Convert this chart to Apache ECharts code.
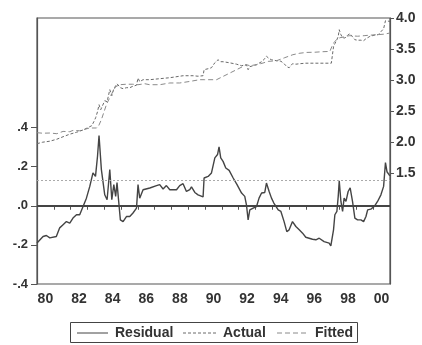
<!DOCTYPE html>
<html>
<head>
<meta charset="utf-8">
<script src="https://cdn.jsdelivr.net/npm/echarts@6/dist/echarts.min.js"></script>
<style>
html,body{margin:0;padding:0;background:#fff;}
#chart{width:422px;height:345px;}
</style>
</head>
<body>
<div id="chart"></div>
<script>
// Residual (left axis)
const resYears = [1980.00,1980.36,1980.56,1980.76,1981.15,1981.35,1981.55,1981.75,1981.95,1982.14,1982.35,1982.54,1982.74,1982.94,1983.14,1983.33,1983.48,1983.60,1983.69,1983.83,1984.03,1984.17,1984.33,1984.45,1984.57,1984.68,1984.76,1984.86,1984.96,1985.12,1985.32,1985.52,1985.71,1985.92,1986.01,1986.11,1986.31,1986.71,1987.11,1987.30,1987.50,1987.70,1987.90,1988.30,1988.49,1988.69,1988.89,1989.09,1989.19,1989.39,1989.58,1989.88,1989.94,1990.18,1990.38,1990.58,1990.74,1990.83,1990.93,1991.07,1991.23,1991.43,1991.67,1991.90,1992.17,1992.36,1992.46,1992.56,1992.66,1992.86,1993.06,1993.21,1993.36,1993.55,1993.65,1993.81,1993.95,1994.09,1994.35,1994.51,1994.70,1994.86,1995.00,1995.20,1995.40,1995.60,1995.80,1995.99,1996.19,1996.39,1996.59,1996.79,1996.89,1997.08,1997.38,1997.48,1997.64,1997.72,1997.84,1997.92,1997.98,1998.08,1998.18,1998.27,1998.38,1998.51,1998.63,1998.77,1998.91,1999.07,1999.27,1999.43,1999.57,1999.67,1999.86,2000.06,2000.26,2000.46,2000.62,2000.73,2000.82,2000.94,2001.00];
const resValues = [-0.190,-0.157,-0.152,-0.164,-0.157,-0.113,-0.097,-0.081,-0.089,-0.063,-0.046,-0.046,-0.004,0.039,0.099,0.168,0.150,0.253,0.359,0.185,0.056,0.031,0.185,0.031,0.108,0.048,0.118,0.022,-0.072,-0.081,-0.055,-0.055,-0.037,-0.012,0.108,0.039,0.082,0.091,0.103,0.108,0.086,0.103,0.082,0.082,0.103,0.113,0.073,0.082,0.096,0.068,0.056,0.045,0.142,0.150,0.168,0.245,0.262,0.301,0.245,0.227,0.193,0.181,0.142,0.108,0.065,0.048,0.005,-0.072,-0.021,-0.012,-0.004,0.039,0.065,0.068,0.116,0.073,0.039,0.014,-0.021,-0.029,-0.081,-0.132,-0.123,-0.081,-0.106,-0.123,-0.140,-0.161,-0.166,-0.171,-0.174,-0.166,-0.174,-0.183,-0.191,-0.205,-0.123,-0.046,-0.029,0.048,0.128,0.022,-0.029,0.039,0.022,0.073,0.091,0.022,-0.063,-0.072,-0.072,-0.081,-0.055,-0.021,-0.017,-0.004,0.022,0.056,0.099,0.221,0.174,0.159,0.154];

// Actual (right axis)
const actYears = [1980.00,1980.34,1980.76,1981.18,1981.55,1981.95,1982.36,1982.74,1983.02,1983.26,1983.38,1983.49,1983.60,1983.69,1983.79,1983.88,1984.03,1984.17,1984.33,1984.45,1984.57,1984.68,1984.76,1984.86,1984.96,1985.12,1985.32,1985.52,1985.71,1985.92,1986.01,1986.11,1986.31,1986.71,1987.30,1987.90,1988.69,1989.29,1989.58,1989.88,1989.94,1990.18,1990.38,1990.58,1990.77,1990.93,1991.07,1991.43,1991.87,1992.17,1992.46,1992.56,1992.66,1993.06,1993.36,1993.55,1993.65,1993.81,1993.95,1994.25,1994.51,1994.70,1994.86,1995.00,1995.20,1995.40,1995.64,1995.99,1996.59,1997.07,1997.51,1997.64,1997.72,1997.84,1997.92,1997.98,1998.08,1998.18,1998.32,1998.51,1998.63,1998.77,1998.91,1999.07,1999.27,1999.43,1999.57,1999.80,2000.06,2000.30,2000.46,2000.62,2000.73,2000.82,2001.00];
const actValues = [1.973,1.997,2.013,2.045,2.085,2.126,2.158,2.194,2.231,2.263,2.327,2.392,2.489,2.602,2.521,2.537,2.666,2.650,2.844,2.747,2.860,2.844,2.940,2.908,2.876,2.860,2.876,2.876,2.900,2.916,3.032,2.973,3.005,3.005,3.021,3.037,3.069,3.069,3.061,3.069,3.166,3.182,3.198,3.279,3.327,3.295,3.295,3.279,3.255,3.231,3.247,3.166,3.215,3.247,3.295,3.344,3.384,3.344,3.327,3.311,3.303,3.263,3.215,3.198,3.263,3.255,3.263,3.271,3.271,3.271,3.271,3.537,3.585,3.650,3.703,3.811,3.731,3.682,3.677,3.731,3.747,3.698,3.650,3.642,3.642,3.634,3.666,3.703,3.723,3.731,3.779,3.827,3.956,3.924,3.945];

// Fitted (right axis)
const fitYears = [1980.00,1980.34,1980.76,1981.18,1981.55,1981.95,1982.14,1982.54,1982.74,1983.14,1983.54,1983.67,1983.83,1983.97,1984.15,1984.33,1984.51,1984.68,1984.92,1985.32,1985.70,1986.01,1986.11,1986.41,1986.71,1987.30,1987.90,1988.49,1989.09,1989.68,1989.98,1990.08,1990.18,1990.28,1990.68,1991.07,1991.87,1992.46,1992.66,1993.06,1993.45,1993.75,1994.25,1994.74,1995.22,1995.64,1996.04,1996.53,1996.95,1997.42,1997.54,1997.66,1997.82,1998.02,1998.20,1998.38,1998.61,1999.07,1999.46,1999.80,2000.26,2000.64,2001.00];
const fitValues = [2.150,2.142,2.145,2.134,2.171,2.166,2.187,2.182,2.198,2.226,2.226,2.263,2.360,2.473,2.618,2.715,2.811,2.892,2.924,2.932,2.932,2.924,2.940,2.940,2.924,2.924,2.952,2.952,2.977,3.005,3.005,3.032,3.005,2.977,3.005,3.058,3.166,3.247,3.231,3.247,3.274,3.300,3.311,3.360,3.408,3.432,3.445,3.448,3.456,3.461,3.537,3.602,3.650,3.682,3.690,3.706,3.715,3.706,3.715,3.723,3.731,3.739,3.758];

const leftTicks = [-0.4,-0.2,0,0.2,0.4];
const rightTicks = [1.5,2.0,2.5,3.0,3.5,4.0];
const yearLabelPos = [1980.5,1982.5,1984.5,1986.5,1988.5,1990.5,1992.5,1994.5,1996.5,1998.5,2000.5];
const seLevel = 0.127;
const seriesNames = ['Residual', 'Actual', 'Fitted'];

const zip = (xs, ys) => xs.map((x, i) => [x, ys[i]]);

const chart = echarts.init(document.getElementById('chart'), null, {renderer: 'canvas'});
const axisColor = '#555';
const fontFamily = 'Liberation Sans, Arial, sans-serif';
const labelStyle = {color: '#333', fontFamily: fontFamily, fontSize: 13, fontWeight: 'bold'};

const styles = {
  Residual: {color: '#444', width: 1.4, type: 'solid'},
  Actual: {color: '#6a6a6a', width: 1, type: [3, 2]},
  Fitted: {color: '#8a8a8a', width: 1, type: [5, 3]}
};

// Legend drawn as a framed box (line samples + real text)
const legendItems = [
  {name: seriesNames[0], x0: 77, x1: 108, tx: 115},
  {name: seriesNames[1], x0: 183, x1: 216, tx: 223},
  {name: seriesNames[2], x0: 277, x1: 308, tx: 315}
];
const legendGraphic = [
  {type: 'rect', shape: {x: 70.5, y: 322.5, width: 287, height: 20}, style: {fill: '#fff', stroke: '#444', lineWidth: 1}, silent: true}
];
legendItems.forEach(it => {
  const s = styles[it.name];
  legendGraphic.push({type: 'line', shape: {x1: it.x0, y1: 333, x2: it.x1, y2: 333},
    style: {stroke: s.color, lineWidth: 1, lineDash: s.type === 'solid' ? null : s.type}, silent: true});
  legendGraphic.push({type: 'text', x: it.tx, y: 333,
    style: {text: it.name, fill: '#333', font: 'bold 14px ' + fontFamily, textVerticalAlign: 'middle', textAlign: 'left'}, silent: true});
});

chart.setOption({
  animation: false,
  backgroundColor: '#fff',
  grid: {left: 37, right: 32, top: 18, bottom: 61, show: true, borderColor: axisColor, borderWidth: 1.2, backgroundColor: 'transparent'},
  graphic: legendGraphic,
  xAxis: {
    type: 'value', min: 1980, max: 2001, interval: 1,
    axisLine: {lineStyle: {color: axisColor, width: 1.2}},
    axisTick: {show: true, length: 4, lineStyle: {color: axisColor}},
    splitLine: {show: false},
    axisLabel: Object.assign({}, labelStyle, {
      customValues: yearLabelPos, margin: 8, fontSize: 14,
      formatter: v => String(Math.floor(v) % 100).padStart(2, '0')
    })
  },
  yAxis: [
    {
      type: 'value', position: 'left', min: -0.4, max: 0.96,
      axisLine: {show: true, lineStyle: {color: axisColor, width: 1.2}},
      axisTick: {show: true, length: 6, customValues: leftTicks, lineStyle: {color: axisColor}},
      splitLine: {show: false},
      axisLabel: Object.assign({}, labelStyle, {
        customValues: leftTicks, margin: 9,
        formatter: v => Math.abs(v) < 1e-9 ? '.0' : (v < 0 ? '-' : '') + '.' + Math.round(Math.abs(v) * 10)
      })
    },
    {
      type: 'value', position: 'right', min: -0.29, max: 4.0,
      axisLine: {show: true, lineStyle: {color: axisColor, width: 1.2}},
      axisTick: {show: true, length: 4, customValues: rightTicks, lineStyle: {color: axisColor}},
      splitLine: {show: false},
      axisLabel: Object.assign({}, labelStyle, {
        customValues: rightTicks, margin: 6, fontSize: 14,
        formatter: v => v.toFixed(1)
      })
    }
  ],
  series: [
    {
      name: seriesNames[0], type: 'line', yAxisIndex: 0, symbol: 'none',
      data: zip(resYears, resValues),
      lineStyle: styles.Residual,
      itemStyle: {color: styles.Residual.color},
      z: 3,
      markLine: {
        silent: true, symbol: 'none', label: {show: false},
        data: [
          {yAxis: 0, lineStyle: {color: '#444', width: 2, type: 'solid'}},
          {yAxis: seLevel, lineStyle: {color: '#aaa', width: 1, type: [2, 2]}}
        ]
      }
    },
    {
      name: seriesNames[1], type: 'line', yAxisIndex: 1, symbol: 'none',
      data: zip(actYears, actValues),
      lineStyle: styles.Actual,
      itemStyle: {color: styles.Actual.color}
    },
    {
      name: seriesNames[2], type: 'line', yAxisIndex: 1, symbol: 'none',
      data: zip(fitYears, fitValues),
      lineStyle: styles.Fitted,
      itemStyle: {color: styles.Fitted.color}
    }
  ]
});
</script>
</body>
</html>
